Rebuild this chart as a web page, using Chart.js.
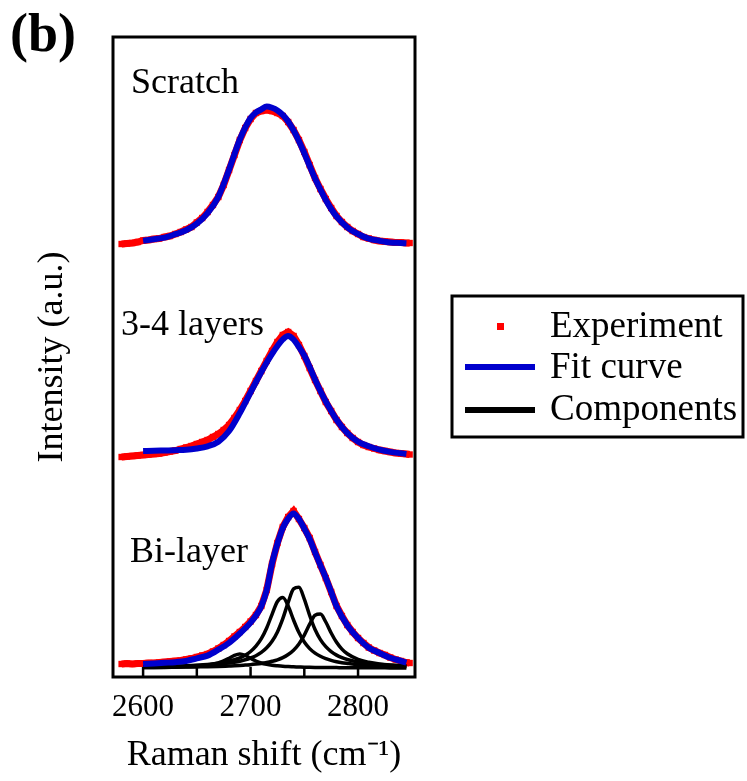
<!DOCTYPE html>
<html>
<head>
<meta charset="utf-8">
<script src="https://cdn.jsdelivr.net/npm/chart.js@4.4.1/dist/chart.umd.min.js"></script>
<style>
  body { margin: 0; background: #fff; }
  canvas { display: block; }
</style>
</head>
<body>
<canvas id="myChart" width="747" height="781"></canvas>
<script>
// Raman 2D band: experiment (red), fit (blue), Lorentz components (black)
// y values are stacked offsets in arbitrary units (a.u.)

const expX = [2580,2585,2590,2595,2600,2605,2610,2615,2620,2625,2630,2635,2640,2645,2650,2655,2660,2665,2670,2675,
  2680,2685,2690,2695,2700,2705,2710,2715,2720,2725,2730,2735,2740,2745,2750,2755,2760,2765,2770,2775,
  2780,2785,2790,2795,2800,2805,2810,2815,2820,2825,2830,2835,2840,2845,2848];

const expScratch = [433,433.5,434,435,436.5,437,438,438.5,440,441,443,445,447.5,450,454.5,459,465,472,480,492,
  507,522,537,549,558,564,566,567,566,564,561,555,547,537,525,512,499,488,478,469,
  461,455,450,446,443,440,438.5,437,436,435.5,435,434.5,434.5,434,434];

const expFew = [220,220.5,221,221.5,222,222.5,223,223.5,224.5,225.5,226.5,228,229.5,231,233,235,237,240,243,247,
  252,259,267,276,286,296,306,316,326,335,342,345,341,332,321,309,297,286,275,266,
  257,250,244,239,235,232,230,228.5,227,226,225,224,223.5,223,222.5];

const expBi = [13,13.5,13,13.5,13.5,14,14,14.5,15,15.5,16,16.5,17.5,18.5,20,21.5,23,25.5,28.5,32,
  36,40.5,45,50,55.5,62,71,87,113,134,150,160,166,158,149,139,125,112,99,85,
  71,61,52,45,39,34,29.5,26.5,24,22,19.5,17.5,16,14.5,14];

const fitX = [2600,2610,2620,2630,2640,2650,2660,2670,2680,2690,2700,2705,2710,2715,2720,2725,2730,2735,2740,2745,
  2750,2755,2760,2765,2770,2775,2780,2790,2800,2810,2820,2830,2840,2845];

const fitScratch = [436.3,437.8,439.4,442.8,446.7,453.3,463.8,480.2,507.4,537.5,559,564.5,567.6,570.5,569.2,566.5,562.1,555.5,546.7,536,
  523.8,511,498.6,487.5,477,468,460.5,449.7,443,438.3,436.2,434.5,434,433.7];

const fitFew = [226,226.2,226.5,226.8,227.2,228.5,230.7,235.3,246,264,284.7,295,305,314.5,323.2,331,337.6,341,337.5,330,
  321.5,310,297.6,286,275.5,266,257.2,243.8,235.3,230.8,227.3,225.1,223.7,223];

const fitBi = [13,13.6,14.2,14.8,16,18.7,21.4,27.3,34.2,43.5,54.4,61.5,70.7,87,113.8,133.3,149,158.4,163.5,158,
  148.5,138,124.6,111.7,99.2,85.2,70.8,51.8,39,29.3,24,19.2,16,14.4];

const compX = [2600,2620,2640,2650,2660,2670,2680,2685,2690,2695,2700,2705,2710,2715,2720,2725,2730,2735,2740,2745,
  2750,2755,2760,2765,2770,2775,2780,2785,2790,2800,2810,2820,2830,2845];

const comp1 = [9.4,9.6,10.2,10.7,11.8,14,18.7,21.6,23,21.6,18.7,16,14,12.7,11.8,11.2,10.7,10.4,10.2,10,
  9.8,9.7,9.6,9.5,9.5,9.4,9.4,9.3,9.3,9.2,9.2,9.2,9.1,9.1];
const comp2 = [10.1,10.5,11.2,11.8,12.6,13.8,15.8,17.3,19.2,21.8,25.5,30.8,38.3,49,62.7,75.5,79.4,71,57,44.4,
  35,28.4,23.9,20.7,18.3,16.6,15.3,14.3,13.6,12.4,11.7,11.1,10.7,10.3];
const comp3 = [10,10.4,10.9,11.4,11.9,12.8,14,14.8,15.8,17.2,19,21.3,24.6,29.2,35.7,45.1,58.4,74.6,88.2,89.7,
  77.9,61.5,47.5,37.4,30.3,25.4,21.9,19.4,17.5,15,13.4,12.4,11.7,11];
const comp4 = [9.5,9.7,9.9,10.1,10.3,10.6,11,11.2,11.5,11.9,12.3,12.9,13.6,14.5,15.7,17.2,19.4,22.5,26.8,33.1,
  41.9,52.8,61.8,62.9,55,44,34.7,27.9,23.2,17.6,14.7,13,12,11];

const sampleNames = ['Scratch', '3-4 layers', 'Bi-layer'];
const nameX = [2588.8, 2579.5, 2587.9];
const nameY = [584, 342, 115];
const legendNames = ['Experiment', 'Fit curve', 'Components'];

const serif = "'Liberation Serif', 'Times New Roman', serif";
const RED = '#ff0000';
const BLUE = '#0000cd';

function pts(xs, ys) {
  return xs.map((x, i) => ({x: x, y: ys[i]}));
}

function expSet(ys) {
  return {
    label: legendNames[0], data: pts(expX, ys),
    borderColor: RED, backgroundColor: RED, borderWidth: 7,
    pointStyle: 'rect', pointRadius: 4.5, pointBorderWidth: 0,
    tension: 0, order: 3
  };
}
function fitSet(ys) {
  return {
    label: legendNames[1], data: pts(fitX, ys),
    borderColor: BLUE, borderWidth: 6, pointRadius: 0,
    cubicInterpolationMode: 'monotone', order: 1
  };
}
function compSet(ys) {
  return {
    label: legendNames[2], data: pts(compX, ys),
    borderColor: '#000', borderWidth: 3.5, pointRadius: 0,
    cubicInterpolationMode: 'monotone', order: 2
  };
}

const decor = {
  id: 'decor',
  afterDraw(chart) {
    const ctx = chart.ctx;
    const a = chart.chartArea;
    const xs = chart.scales.x;
    const ys = chart.scales.y;
    ctx.save();
    // frame
    ctx.strokeStyle = '#000';
    ctx.lineWidth = 3;
    ctx.strokeRect(a.left, a.top, a.right - a.left, a.bottom - a.top);
    // inward ticks
    ctx.lineWidth = 2.5;
    xs.ticks.forEach(t => {
      const px = xs.getPixelForValue(t.value);
      ctx.beginPath();
      ctx.moveTo(px, a.bottom);
      ctx.lineTo(px, a.bottom - 10);
      ctx.stroke();
    });
    // sample names
    ctx.fillStyle = '#000';
    ctx.font = '36px ' + serif;
    ctx.textAlign = 'left';
    ctx.textBaseline = 'alphabetic';
    sampleNames.forEach((n, i) => {
      ctx.fillText(n, xs.getPixelForValue(nameX[i]), ys.getPixelForValue(nameY[i]));
    });
    // legend
    ctx.lineWidth = 3;
    ctx.strokeRect(452, 296, 291, 141);
    ctx.fillStyle = RED;
    ctx.fillRect(497, 323, 7, 7);
    ctx.lineWidth = 6;
    ctx.strokeStyle = BLUE;
    ctx.beginPath(); ctx.moveTo(465, 367); ctx.lineTo(535, 367); ctx.stroke();
    ctx.strokeStyle = '#000';
    ctx.beginPath(); ctx.moveTo(465, 410); ctx.lineTo(535, 410); ctx.stroke();
    ctx.fillStyle = '#000';
    ctx.font = '37px ' + serif;
    ctx.fillText(legendNames[0], 550, 337);
    ctx.fillText(legendNames[1], 550, 378);
    ctx.fillText(legendNames[2], 550, 420);
    // panel label
    ctx.font = 'bold 54px ' + serif;
    ctx.fillText('(b)', 10, 51);
    ctx.restore();
  }
};

Chart.defaults.font.family = serif;
Chart.defaults.color = '#000';

const ctx = document.getElementById('myChart');
new Chart(ctx, {
  type: 'line',
  data: {
    datasets: [
      expSet(expScratch), expSet(expFew), expSet(expBi),
      compSet(comp1), compSet(comp2), compSet(comp3), compSet(comp4),
      fitSet(fitScratch), fitSet(fitFew), fitSet(fitBi)
    ]
  },
  options: {
    responsive: false,
    animation: false,
    devicePixelRatio: 1,
    layout: { padding: { left: 0, top: 37, right: 332, bottom: 0 } },
    plugins: { legend: { display: false }, tooltip: { enabled: false } },
    scales: {
      x: {
        type: 'linear', min: 2572, max: 2853,
        grid: { display: false, drawTicks: false },
        border: { display: false },
        afterFit(s) { s.height = 104; },
        afterBuildTicks(s) { s.ticks = s.ticks.filter(t => t.value <= 2800); },
        ticks: {
          stepSize: 50, includeBounds: false, autoSkip: false, maxRotation: 0,
          padding: 12, font: { size: 31 },
          callback: v => (v % 100 === 0 ? String(v) : '')
        },
        title: {
          display: true, text: 'Raman shift (cm\u207B\u00B9)',
          font: { size: 36 }, padding: { top: 0, bottom: 4 }
        }
      },
      y: {
        type: 'linear', min: 0, max: 640,
        grid: { display: false, drawTicks: false },
        border: { display: false },
        ticks: { display: false },
        afterFit(s) { s.width = 113; },
        title: {
          display: true, text: 'Intensity (a.u.)',
          font: { size: 36 }, padding: { top: 31, bottom: 0 }
        }
      }
    }
  },
  plugins: [decor]
});
</script>
</body>
</html>
